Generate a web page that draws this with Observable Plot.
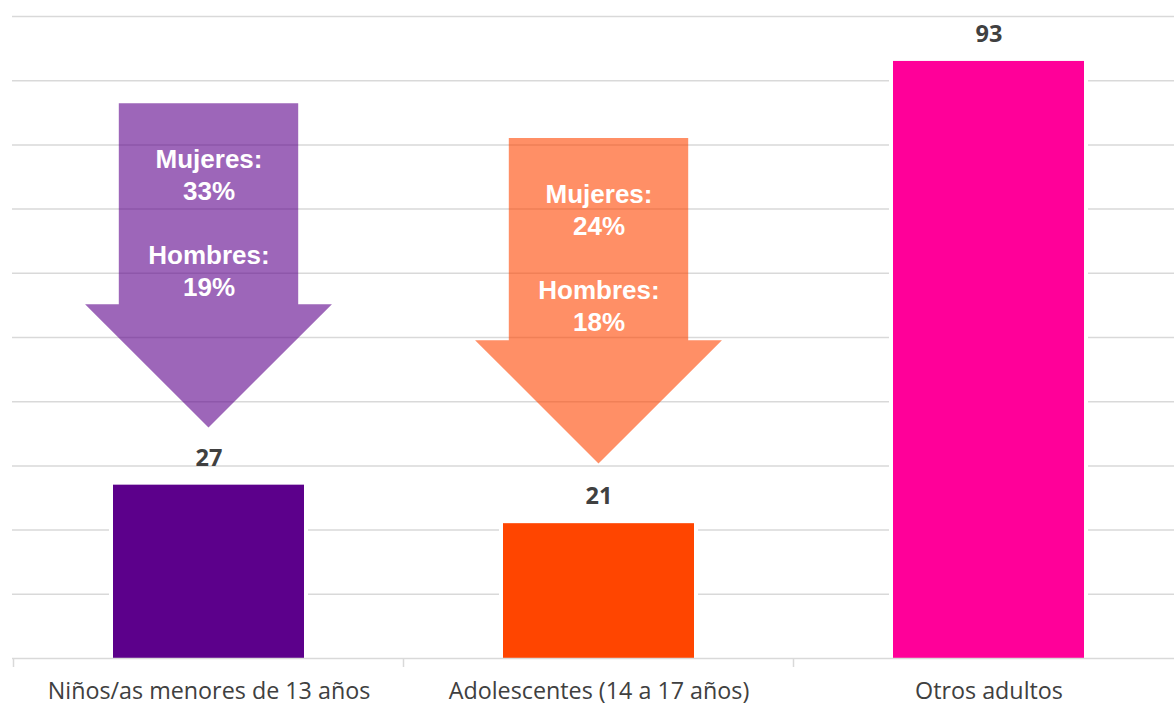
<!DOCTYPE html>
<html>
<head>
<meta charset="utf-8">
<script src="https://cdn.jsdelivr.net/npm/d3@7"></script>
<script src="https://cdn.jsdelivr.net/npm/@observablehq/plot@0.6"></script>
<style>
  html, body { margin: 0; padding: 0; background: #fff; overflow: hidden; }
  svg { display: block; }
</style>
</head>
<body>
<div id="chart"></div>
<script>
// ---- Data ----
const categories = ["Niños/as menores de 13 años", "Adolescentes (14 a 17 años)", "Otros adultos"];
const values = [27, 21, 93];
const barColors = ["#5C008B", "#FF4500", "#FF0099"];

// Down-arrow annotations (y values in data units)
const arrowCategories = ["Niños/as menores de 13 años", "Adolescentes (14 a 17 años)"];
const arrowTop = [86.4, 81.0];
const arrowNeck = [55.1, 49.5];
const arrowTip = [35.9, 30.3];
const arrowColors = ["#5C008B", "#FF4500"];
const mujeresPct = ["33%", "24%"];
const hombresPct = ["19%", "18%"];

const yTicks = [0, 10, 20, 30, 40, 50, 60, 70, 80, 90, 100];

const bars = categories.map((c, i) => ({cat: c, value: values[i], color: barColors[i]}));
const arrows = arrowCategories.map((c, i) => ({
  cat: c, top: arrowTop[i], neck: arrowNeck[i], tip: arrowTip[i],
  color: arrowColors[i], m: mujeresPct[i], h: hombresPct[i]
}));

// ---- Layout / style ----
const W = 1174, H = 704;
const PAD = 0.511;
const SHAFT = 0.46;   // shaft width as fraction of band step
const HEAD = 0.633;   // head width as fraction of band step
const gridColor = "#d9d9d9";
const textColor = "#404040";
const labelFont = "'Open Sans', 'Noto Sans', sans-serif";

function bandInfo(sx) {
  const bw = typeof sx.bandwidth === "function" ? sx.bandwidth() : sx.bandwidth;
  const st = typeof sx.step === "function" ? sx.step() : bw / (1 - PAD);
  return {bw, st};
}

const arrowMark = Plot.barY(arrows, {
  x: "cat", y1: "tip", y2: "top",
  render(index, scales, values, dims) {
    const sx = scales.x, sy = scales.y;
    const {bw, st} = bandInfo(sx);
    const g = d3.create("svg:g");
    for (const i of index) {
      const d = arrows[i];
      const cx = sx(d.cat) + bw / 2;
      const yT = sy(d.top), yN = sy(d.neck), yP = sy(d.tip);
      const sw = st * SHAFT / 2, hw = st * HEAD / 2;
      const p = d3.path();
      p.moveTo(cx - sw, yT); p.lineTo(cx + sw, yT); p.lineTo(cx + sw, yN);
      p.lineTo(cx + hw, yN); p.lineTo(cx, yP); p.lineTo(cx - hw, yN);
      p.lineTo(cx - sw, yN); p.closePath();
      g.append("path").attr("d", p.toString()).attr("fill", d.color).attr("fill-opacity", 0.6);
    }
    return g.node();
  }
});

const tickMark = Plot.ruleY([0], {
  render(index, scales, values, dims) {
    const sx = scales.x, sy = scales.y;
    const {bw, st} = bandInfo(sx);
    const g = d3.create("svg:g").attr("stroke", gridColor).attr("stroke-width", 1.5);
    const y0 = sy(0);
    categories.forEach(c => {
      const xb = sx(c) + bw / 2 - st / 2;
      g.append("line").attr("x1", xb).attr("x2", xb).attr("y1", y0).attr("y2", y0 + 9);
    });
    return g.node();
  }
});

const chart = Plot.plot({
  width: W,
  height: H,
  marginTop: 16,
  marginBottom: 46,
  marginLeft: 12,
  marginRight: -10,
  style: {fontFamily: labelFont, background: "#fff"},
  x: {domain: categories, paddingInner: PAD, paddingOuter: PAD / 2, axis: null},
  y: {domain: [0, 100], axis: null},
  color: {type: "identity"},
  marks: [
    Plot.ruleY(yTicks.filter(t => t > 0), {y: d => d, stroke: gridColor, strokeWidth: 1.5}),
    arrowMark,
    Plot.text(arrows, {
      x: "cat", y: "top",
      text: d => `Mujeres:\n${d.m}\n\nHombres:\n${d.h}`,
      lineAnchor: "top", dy: 41.5, lineHeight: 1.23,
      fill: "white", fontWeight: "bold", fontSize: 26,
      fontFamily: "'Liberation Sans', Arial, sans-serif"
    }),
    Plot.barY(bars, {x: "cat", y: "value", fill: "white", stroke: "white", strokeWidth: 8}),
    Plot.barY(bars, {x: "cat", y: "value", fill: "color"}),
    Plot.ruleY([0], {stroke: gridColor, strokeWidth: 1.5}),
    tickMark,
    Plot.text(bars, {
      x: "cat", y: "value", text: d => String(d.value), dy: -27,
      fill: textColor, fontWeight: "bold", fontSize: 23.5, fontFamily: labelFont
    }),
    // Category labels (x axis)
    Plot.text(categories, {
      x: d => d, frameAnchor: "bottom", lineAnchor: "bottom", dy: 40,
      text: d => d, fill: textColor, fontSize: 23.3, fontFamily: labelFont
    })
  ]
});

document.getElementById("chart").appendChild(chart);
</script>
</body>
</html>
